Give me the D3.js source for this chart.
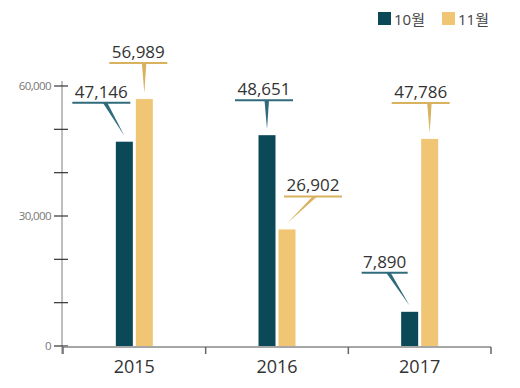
<!DOCTYPE html>
<html>
<head>
<meta charset="utf-8">
<script src="https://cdn.jsdelivr.net/npm/d3@7"></script>
<style>
  html, body { margin: 0; padding: 0; background: #fff; }
  svg { display: block; font-family: "Open Sans", "Noto Sans CJK KR", sans-serif; }
</style>
</head>
<body>
<svg id="chart" width="520" height="388"></svg>
<script>
const YEARS = ["2015", "2016", "2017"];
const SERIES = ["10월", "11월"];
const OCT = [47146, 48651, 7890];
const NOV = [56989, 26902, 47786];
const Y_TICKS = [0, 10000, 20000, 30000, 40000, 50000, 60000];
const Y_LABELS = [0, 30000, 60000];
const COLORS = ["#0b4858", "#f0c674"];
const LINE_COLORS = ["#2f6b7b", "#d8b25e"];

// callout placement per bar: [label dx, label dy from bar top, wedge base dx]
const CALLOUT_OCT = [[-23, -39, -19], [-3, -35, 0], [-25, -39, -21]];
const CALLOUT_NOV = [[-6, -36, 0], [26, -33, 28], [-9, -36, 0]];

const svg = d3.select("#chart");
const margin = { top: 86, right: 29, bottom: 42, left: 63 };
const W = 520, H = 388;

const x = d3.scaleBand().domain(YEARS).range([margin.left, W - margin.right]).padding(0);
const inner = d3.scaleBand().domain(SERIES).range([-18.5, 18.5]).paddingInner(0.15);
const y = d3.scaleLinear().domain([0, 60000]).range([H - margin.bottom, margin.top]);

const fmt = d3.format(",");

// y axis
const yAxis = svg.append("g").attr("transform", `translate(${margin.left - 1},0)`);
yAxis.append("line")
  .attr("x1", 0).attr("x2", 0)
  .attr("y1", y(60000) - 5).attr("y2", y(0) + 8)
  .attr("stroke", "#a8a8a8").attr("stroke-width", 1.5);
yAxis.selectAll("line.tick")
  .data(Y_TICKS)
  .join("line")
  .attr("class", "tick")
  .attr("x1", -8).attr("x2", 6)
  .attr("y1", (d) => y(d)).attr("y2", (d) => y(d))
  .attr("stroke", "#333").attr("stroke-width", 1.2);
yAxis.selectAll("text")
  .data(Y_LABELS)
  .join("text")
  .attr("x", -11)
  .attr("y", (d) => y(d))
  .attr("dy", "0.35em")
  .attr("text-anchor", "end")
  .attr("font-size", 11.5)
  .attr("letter-spacing", -0.6)
  .attr("fill", "#777")
  .text((d) => fmt(d));

// x axis
const xAxis = svg.append("g").attr("transform", `translate(0,${y(0) + 1})`);
xAxis.append("line")
  .attr("x1", x.range()[0]).attr("x2", x.range()[1])
  .attr("stroke", "#888").attr("stroke-width", 1.5);
xAxis.selectAll("line.tick")
  .data([...YEARS.map((d) => x(d)), x.range()[1]])
  .join("line")
  .attr("class", "tick")
  .attr("x1", (d) => d).attr("x2", (d) => d)
  .attr("y1", 0).attr("y2", 7)
  .attr("stroke", "#666").attr("stroke-width", 1.5);
xAxis.selectAll("text")
  .data(YEARS)
  .join("text")
  .attr("x", (d) => x(d) + x.bandwidth() / 2)
  .attr("y", 26)
  .attr("text-anchor", "middle")
  .attr("font-size", 18)
  .attr("fill", "#333")
  .text((d) => d);

// bars
const bars = [];
YEARS.forEach((year, i) => {
  bars.push({ year, s: 0, value: OCT[i], callout: CALLOUT_OCT[i] });
  bars.push({ year, s: 1, value: NOV[i], callout: CALLOUT_NOV[i] });
});

svg.append("g").selectAll("rect")
  .data(bars)
  .join("rect")
  .attr("x", (d) => x(d.year) + x.bandwidth() / 2 + inner(SERIES[d.s]))
  .attr("y", (d) => y(d.value))
  .attr("width", inner.bandwidth())
  .attr("height", (d) => y(0) - y(d.value))
  .attr("fill", (d) => COLORS[d.s]);

// callouts
const callouts = svg.append("g").selectAll("g")
  .data(bars)
  .join("g");

callouts.each(function (d) {
  const g = d3.select(this);
  const cx = x(d.year) + x.bandwidth() / 2 + inner(SERIES[d.s]) + inner.bandwidth() / 2;
  const top = y(d.value);
  const [ldx, ldy, bdx] = d.callout;
  const lx = cx + ldx;
  const ly = top + ldy;
  const bx = cx + bdx;
  const half = d.value < 10000 ? 23 : 29;

  g.append("path")
    .attr("d", `M${bx - 2.5},${ly} L${bx + 2},${ly} L${cx},${top - 6} Z`)
    .attr("fill", LINE_COLORS[d.s]);

  g.append("line")
    .attr("x1", lx - half).attr("x2", lx + half)
    .attr("y1", ly).attr("y2", ly)
    .attr("stroke", LINE_COLORS[d.s]).attr("stroke-width", 2);

  g.append("text")
    .attr("x", lx)
    .attr("y", ly - 5)
    .attr("text-anchor", "middle")
    .attr("font-size", 17)
    .attr("fill", "#333")
    .text(fmt(d.value));
});

// legend
const legend = svg.append("g").attr("transform", "translate(378,12)");
const items = legend.selectAll("g")
  .data(SERIES)
  .join("g")
  .attr("transform", (_, i) => `translate(${i * 64},0)`);
items.append("rect")
  .attr("width", 13).attr("height", 13)
  .attr("fill", (_, i) => COLORS[i]);
items.append("text")
  .attr("x", 16).attr("y", 12.5)
  .attr("font-size", 15)
  .attr("fill", "#444")
  .text((d) => d);
</script>
</body>
</html>
